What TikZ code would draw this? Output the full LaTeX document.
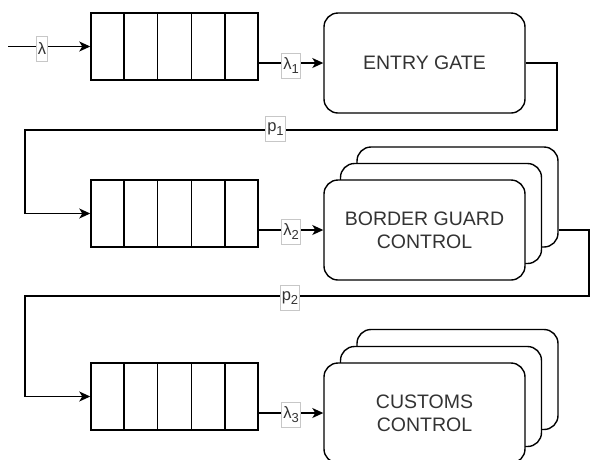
\documentclass[tikz,border=0pt]{standalone}
\usepackage{fontspec}
\setmainfont{Liberation Sans}
\usetikzlibrary{calc,arrows.meta}

% small lowered index for the rate labels
\newcommand{\lowidx}[1]{\raisebox{-4pt}{\fontsize{13}{13}\selectfont #1}}

\begin{document}
\begin{tikzpicture}[x=1pt,y=-1pt,
  line width=1.5pt,
  arr/.style={-{Stealth[length=11pt,width=10pt,inset=3pt]}, line width=1.3pt},
  queue/.style={draw, rectangle, minimum width=167pt, minimum height=67pt, inner sep=0pt},
  station/.style={draw, fill=white, rounded corners=14pt, minimum width=201pt,
    minimum height=100pt, inner sep=0pt, align=center, line width=1.4pt,
    font=\fontsize{19.5}{23}\selectfont, text=black!80},
  rate/.style={draw=black!22, fill=white, line width=0.6pt, inner sep=1.5pt,
    minimum height=25pt, font=\fontsize{16.5}{16.5}\selectfont, text=black!80},
]
% canvas
\fill[white] (0,0) rectangle (590,459);
\useasboundingbox (0,0) rectangle (590,459);
\clip (0,0) rectangle (590,459);

% queues
\node[queue] (q1) at (174.5,46.5) {};
\node[queue] (q2) at (174.5,213.5) {};
\node[queue] (q3) at (174.5,396.5) {};
\foreach \q in {q1,q2,q3}
  \foreach \i in {1,...,4}
    \draw ($(\q.north west)!\i/5!(\q.north east)$) -- ($(\q.south west)!\i/5!(\q.south east)$);

% service stations
\node[station] (g) at (424.5,63) {ENTRY GATE};

\node[station] (b3) at (457.5,197) {};
\node[station] (b2) at (441,213.5) {};
\node[station] (b) at (424.5,230) {BORDER GUARD\\CONTROL};

\node[station] (c3) at (457.5,379.5) {};
\node[station] (c2) at (441,396.5) {};
\node[station] (c) at (424.5,413) {CUSTOMS\\CONTROL};

% arrivals
\coordinate (in) at (8,46.5);
\draw[arr] (in) -- (q1.west);
\node[rate] (lam) at (42,49) {λ};

% queue to station
\draw[arr] (q1.east |- g.west) -- (g.west);
\node[rate] (lam1) at (291,66) {λ\lowidx{1}};
\draw[arr] (q2.east |- b.west) -- (b.west);
\node[rate] (lam2) at (291,232) {λ\lowidx{2}};
\draw[arr] (q3.east |- c.west) -- (c.west);
\node[rate] (lam3) at (291,415) {λ\lowidx{3}};

% routing from one stage to the next
\coordinate (r1) at (557,130);
\coordinate (l1) at (25,213.5);
\draw[arr] (g.east) -| (r1) -| (l1) -- (q2.west);
\node[rate] (p1) at (275.5,129) {p\lowidx{1}};

\coordinate (r2) at (589,296);
\coordinate (l2) at (25,396.5);
\draw[arr] (b3.east |- b.east) -| (r2) -| (l2) -- (q3.west);
\node[rate] (p2) at (290,298) {p\lowidx{2}};
\end{tikzpicture}
\end{document}
